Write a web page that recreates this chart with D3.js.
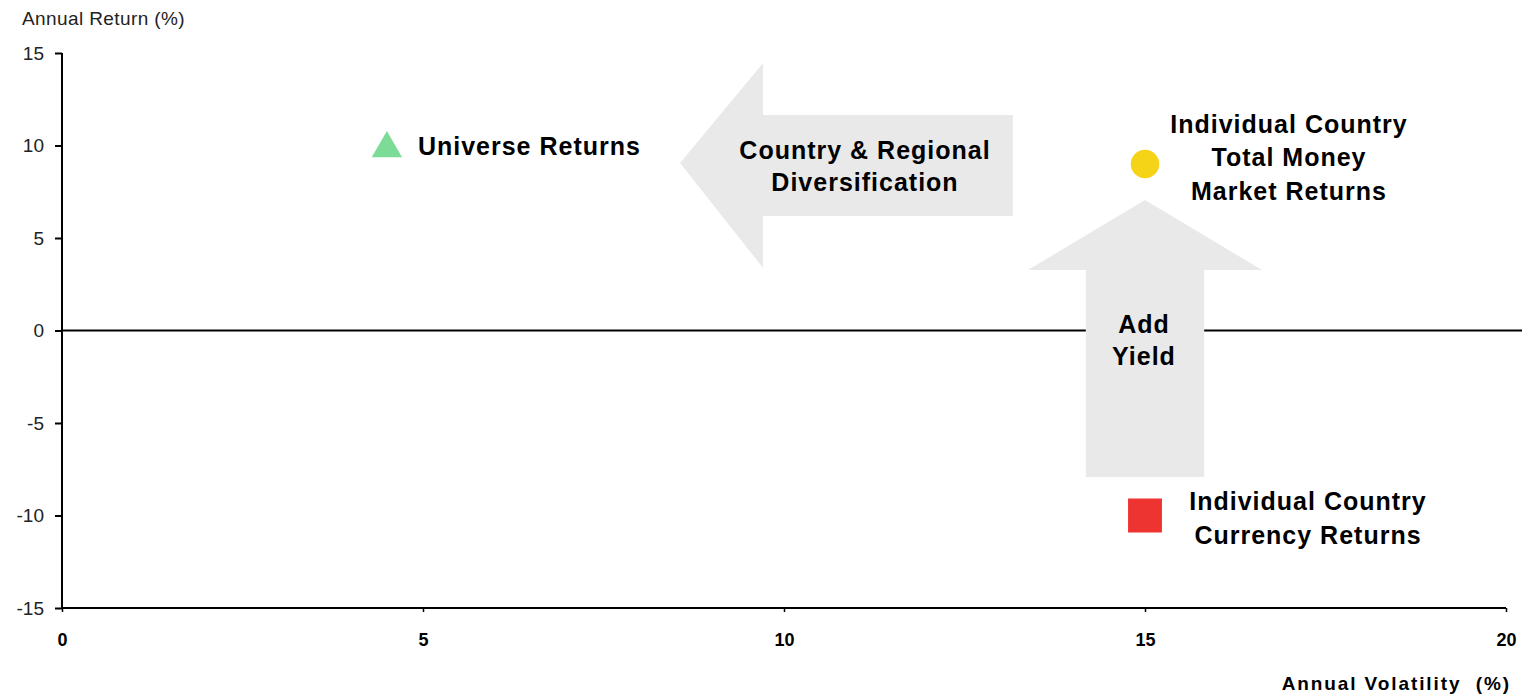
<!DOCTYPE html>
<html>
<head>
<meta charset="utf-8">
<script src="https://cdn.jsdelivr.net/npm/d3@7"></script>
<style>
  body { margin: 0; background: #fff; }
  svg { display: block; font-family: "Liberation Sans", Arial, sans-serif; }
  .lbl { font-size: 25px; font-weight: bold; fill: #000; letter-spacing: 1px; }
</style>
</head>
<body>
<div id="chart"></div>
<script>
// series: one point per group
var names = ["Universe Returns", "Individual Country Total Money Market Returns", "Individual Country Currency Returns"];
var volatility = [4.5, 15, 15];
var returns = [10, 9, -10];
var shapes = ["triangle", "circle", "square"];
var colors = ["#7ddb98", "#f5d418", "#ee3430"];

// tick labels
var xTicks = [0, 5, 10, 15, 20];
var yTicks = [15, 10, 5, 0, -5, -10, -15];

// annotation arrows (data units)
var leftArrow = [[8.56, 9.05], [9.71, 14.46], [9.71, 11.65], [13.17, 11.65], [13.17, 6.19], [9.71, 6.19], [9.71, 3.38]];
var upArrow = [[15.0, 7.05], [16.62, 3.27], [15.82, 3.27], [15.82, -7.92], [14.18, -7.92], [14.18, 3.27], [13.38, 3.27]];

var width = 1536, height = 694;
var margin = {top: 53, right: 30, bottom: 86, left: 62};

var x = d3.scaleLinear().domain([0, 20]).range([margin.left, 1506]);
var y = d3.scaleLinear().domain([-15, 15]).range([608, 53]);

var svg = d3.select("#chart").append("svg")
    .attr("width", width)
    .attr("height", height);

// y axis
var yAxis = svg.append("g")
    .attr("transform", "translate(" + x(0) + ",0)")
    .call(d3.axisLeft(y).tickValues(yTicks).tickSize(7).tickPadding(11)
        .tickFormat(function(d) { return String(d); }));
yAxis.attr("font-size", 19).attr("font-family", null);
yAxis.selectAll(".tick text").attr("fill", "#222");
yAxis.select(".domain").attr("stroke", "#000").attr("stroke-width", 2).attr("d", "M0," + y(15) + "V" + y(-15));
yAxis.selectAll(".tick line").attr("stroke", "#000").attr("stroke-width", 2);

// x axis
var xAxis = svg.append("g")
    .attr("transform", "translate(0," + y(-15) + ")")
    .call(d3.axisBottom(x).tickValues(xTicks).tickSize(4).tickPadding(21));
xAxis.attr("font-size", 18).attr("font-family", null).attr("font-weight", "bold");
xAxis.selectAll(".tick text").attr("fill", "#000");
xAxis.select(".domain").attr("stroke", "#000").attr("stroke-width", 2).attr("d", "M" + x(0) + ",0H" + x(20));
xAxis.selectAll(".tick line").attr("stroke", "#000").attr("stroke-width", 1.5);

// zero line
svg.append("line")
    .attr("x1", x(0)).attr("x2", 1522)
    .attr("y1", y(0)).attr("y2", y(0))
    .attr("stroke", "#000").attr("stroke-width", 2);

// axis titles
svg.append("text")
    .attr("x", 22).attr("y", 25)
    .attr("font-size", 19).attr("fill", "#222")
    .style("letter-spacing", "0.4px")
    .text("Annual Return (%)");
svg.append("text")
    .attr("x", 1511).attr("y", 690)
    .attr("text-anchor", "end")
    .attr("font-size", 19).attr("font-weight", "bold")
    .style("letter-spacing", "1.9px")
    .style("white-space", "pre")
    .text("Annual Volatility  (%)");

// arrows
var line = d3.line().x(function(d) { return x(d[0]); }).y(function(d) { return y(d[1]); });
[leftArrow, upArrow].forEach(function(a) {
    svg.append("path")
        .attr("d", line(a) + "Z")
        .attr("fill", "#e9e9e9");
});

// points
var sym = {triangle: d3.symbolTriangle, circle: d3.symbolCircle, square: d3.symbolSquare};
var sizes = {triangle: 400, circle: 640, square: 1150};
svg.selectAll(".pt")
    .data(names)
    .enter().append("path")
    .attr("class", "pt")
    .attr("transform", function(d, i) {
        var dy = shapes[i] == "triangle" ? 3 : 0;
        return "translate(" + x(volatility[i]) + "," + (y(returns[i]) + dy) + ")";
    })
    .attr("d", function(d, i) { return d3.symbol().type(sym[shapes[i]]).size(sizes[shapes[i]])(); })
    .attr("fill", function(d, i) { return colors[i]; });

// labels
function label(lines, cx, cy, anchor, lh) {
    var t = svg.append("text").attr("class", "lbl").attr("text-anchor", anchor);
    lines.forEach(function(s, k) {
        t.append("tspan").attr("x", cx).attr("y", cy + k * lh).attr("dy", "0.35em").text(s);
    });
}
label(["Universe Returns"], x(volatility[0]) + 31, y(returns[0]) + 1, "start", 0);
label(["Individual Country", "Total Money", "Market Returns"], 1289, 124, "middle", 33.5);
label(["Individual Country", "Currency Returns"], 1308, 501, "middle", 34);
label(["Country & Regional", "Diversification"], 865, 150, "middle", 32);
label(["Add", "Yield"], 1144, 324, "middle", 32);
</script>
</body>
</html>
